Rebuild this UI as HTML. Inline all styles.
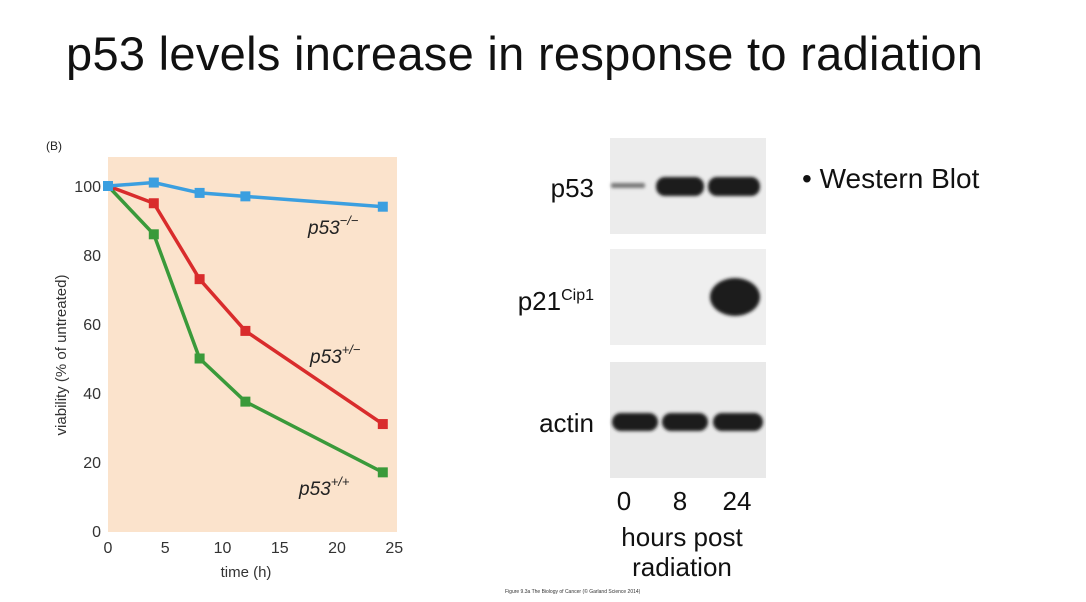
<!DOCTYPE html>
<html><head><meta charset="utf-8"><style>
body{margin:0;width:1086px;height:602px;background:#fff;font-family:"Liberation Sans",sans-serif;overflow:hidden;position:relative}
.t{position:absolute;white-space:nowrap}
</style></head><body>
<div class="t" style="left:66px;top:26px;font-size:47px;color:#111;letter-spacing:0.3px">p53 levels increase in response to radiation</div>
<div class="t" style="left:802px;top:163px;font-size:28px;color:#111">• Western Blot</div>
<svg width="1086" height="602" style="position:absolute;left:0;top:0">
<text x="46" y="150" font-size="12" fill="#222">(B)</text>
<rect x="108" y="157" width="289" height="375" fill="#fbe3cc"/>
<g id="axes"></g>
<g id="series"></g>
<text transform="translate(66,355) rotate(-90)" font-size="15" fill="#333" text-anchor="middle">viability (% of untreated)</text>
<text x="246" y="577" font-size="15" fill="#333" text-anchor="middle">time (h)</text>
<text x="308" y="234" font-size="19" font-style="italic" fill="#222">p53<tspan dy="-9" font-size="13">−/−</tspan></text>
<text x="310" y="363" font-size="19" font-style="italic" fill="#222">p53<tspan dy="-9" font-size="13">+/−</tspan></text>
<text x="299" y="495" font-size="19" font-style="italic" fill="#222">p53<tspan dy="-9" font-size="13">+/+</tspan></text>
<defs><filter id="bl"><feGaussianBlur stdDeviation="1.5"/></filter></defs>
<g>
<rect x="610" y="138" width="156" height="96" fill="#ececec"/>
<rect x="610" y="249" width="156" height="96" fill="#efefef"/>
<rect x="610" y="362" width="156" height="116" fill="#e9e9e9"/>
<g filter="url(#bl)" fill="#1c1c1c">
<rect x="611" y="183" width="34" height="5" rx="2" fill="#777"/>
<rect x="656" y="177" width="48" height="19" rx="9"/>
<rect x="708" y="177" width="52" height="19" rx="9"/>
<ellipse cx="735" cy="297" rx="25" ry="19"/>
<rect x="612" y="413" width="46" height="18" rx="9"/>
<rect x="662" y="413" width="46" height="18" rx="9"/>
<rect x="713" y="413" width="50" height="18" rx="9"/>
</g></g>
<text x="594" y="197" font-size="26" text-anchor="end" fill="#111">p53</text>
<text x="594" y="310" font-size="26" text-anchor="end" fill="#111">p21<tspan dy="-10" font-size="16">Cip1</tspan></text>
<text x="594" y="432" font-size="26" text-anchor="end" fill="#111">actin</text>
<text x="624" y="510" font-size="26" text-anchor="middle" fill="#111">0</text>
<text x="680" y="510" font-size="26" text-anchor="middle" fill="#111">8</text>
<text x="737" y="510" font-size="26" text-anchor="middle" fill="#111">24</text>
<text x="682" y="546" font-size="26" text-anchor="middle" fill="#111">hours post</text>
<text x="682" y="576" font-size="26" text-anchor="middle" fill="#111">radiation</text>
<text x="505" y="593" font-size="5" fill="#333">Figure 9.3a The Biology of Cancer (© Garland Science 2014)</text>
</svg>
<script>
const times=[0,4,8,12,24];
const nullVals=[100,101,98,97,94];
const hetVals=[100,95,73,58,31];
const wtVals=[100,86,50,37.5,17];
const xTicks=[0,5,10,15,20,25];
const yTicks=[0,20,40,60,80,100];
const X=v=>108+v*11.45, Y=v=>531-v*3.45;
const NS="http://www.w3.org/2000/svg";
const ax=document.getElementById('axes'), sg=document.getElementById('series');
function mk(tag,at,p){const e=document.createElementNS(NS,tag);for(const k in at)e.setAttribute(k,at[k]);p.appendChild(e);return e;}
xTicks.forEach(t=>{const e=mk('text',{x:X(t),y:553,'font-size':16,fill:'#333','text-anchor':'middle'},ax);e.textContent=t;

});
yTicks.forEach(t=>{const e=mk('text',{x:101,y:Y(t)+6,'font-size':16,fill:'#333','text-anchor':'end'},ax);e.textContent=t;

});
function series(vals,color,name){
const l=mk('polyline',{points:times.map((t,i)=>X(t)+','+Y(vals[i])).join(' '),fill:'none',stroke:color,'stroke-width':3.5},sg);


times.forEach((t,i)=>{const r=mk('rect',{x:X(t)-5,y:Y(vals[i])-5,width:10,height:10,fill:color},sg);

});}
series(wtVals,'#3a9a3a','p53-wt');
series(hetVals,'#d92c2c','p53-het');
series(nullVals,'#3b9fe0','p53-null');
</script>
</body></html>
